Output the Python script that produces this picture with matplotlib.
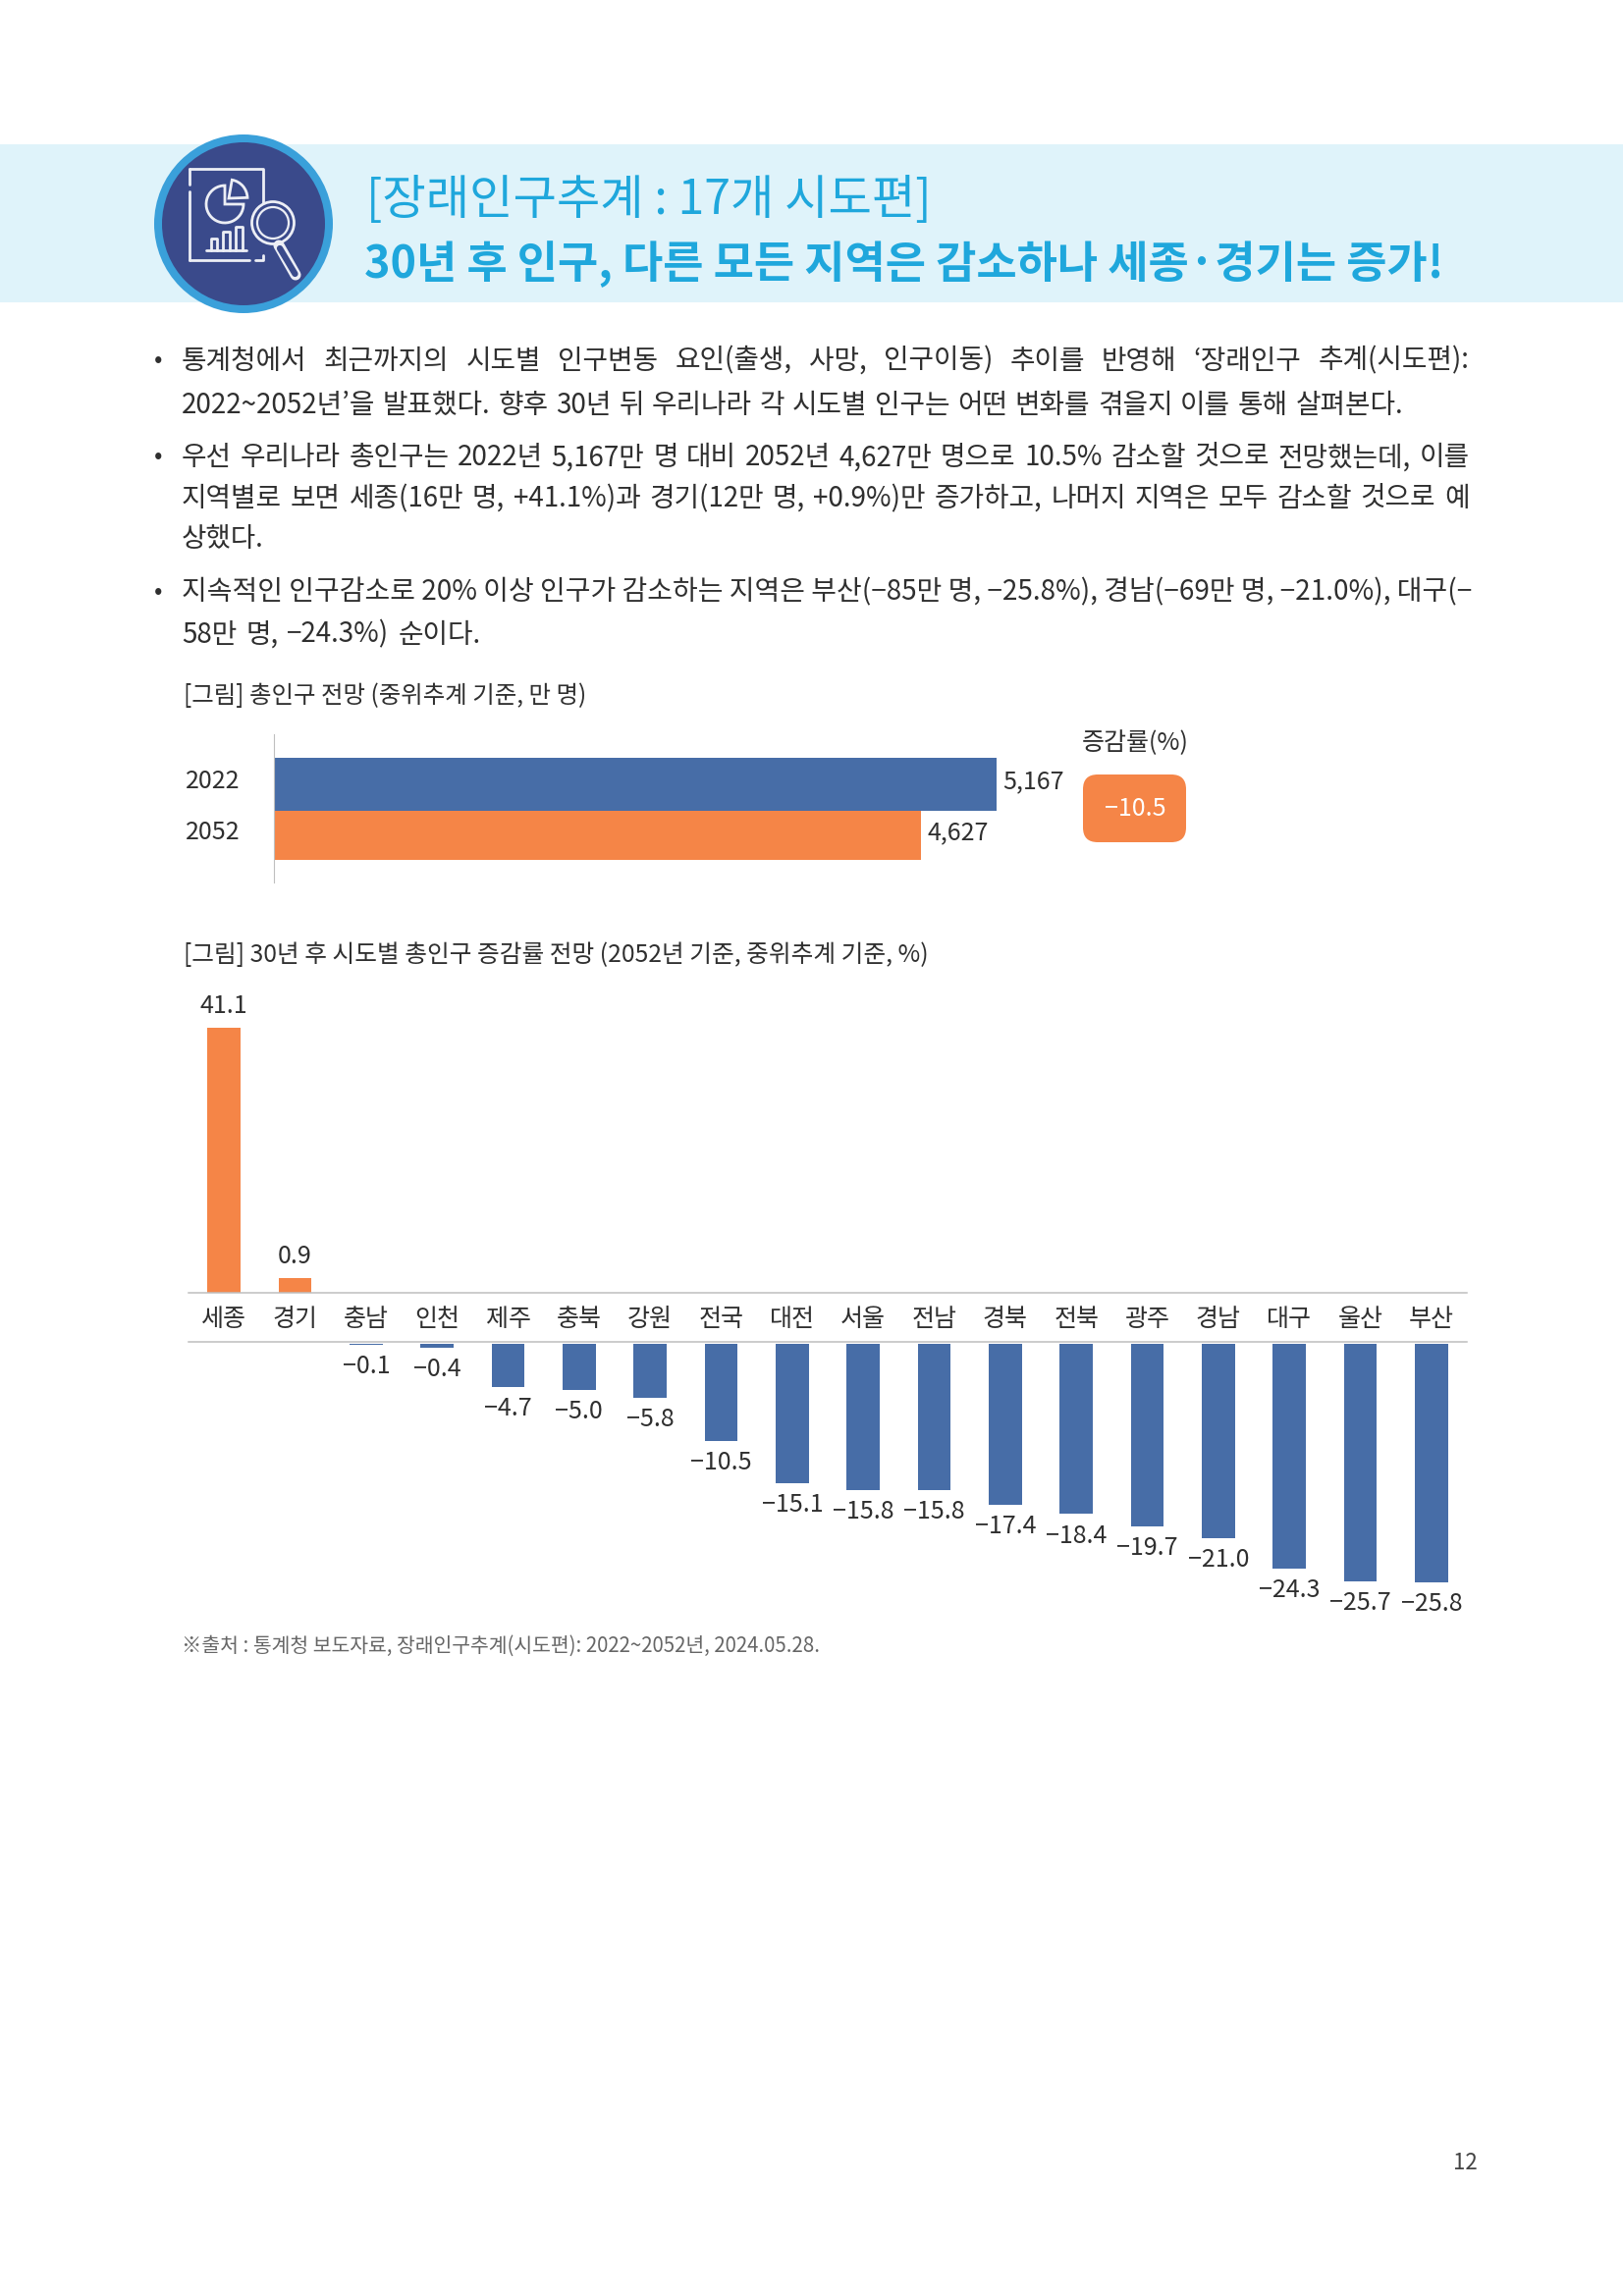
import numpy as np
import matplotlib
matplotlib.use('Agg')
import matplotlib.pyplot as plt
from matplotlib.patches import Circle, FancyBboxPatch, Wedge, Rectangle

plt.rcParams['font.family'] = ['Noto Sans CJK KR', 'DejaVu Sans']

# 데이터
years = ['2022', '2052']
total_pop = [5167, 4627]
total_labels = ['5,167', '4,627']
change_total = '−10.5'

regions = ['세종', '경기', '충남', '인천', '제주', '충북', '강원', '전국', '대전',
           '서울', '전남', '경북', '전북', '광주', '경남', '대구', '울산', '부산']
rates = [41.1, 0.9, -0.1, -0.4, -4.7, -5.0, -5.8, -10.5, -15.1,
         -15.8, -15.8, -17.4, -18.4, -19.7, -21.0, -24.3, -25.7, -25.8]

body_lines = [
    (124, 1003, 246.5, '통계청에서 최근까지의 시도별 인구변동 요인(출생, 사망, 인구이동) 추이를 반영해 ‘장래인구 추계(시도편):'),
    (124, 958, 276.5, '2022~2052년’을 발표했다. 향후 30년 뒤 우리나라 각 시도별 인구는 어떤 변화를 겪을지 이를 통해 살펴본다.'),
    (124, 1003, 312.5, '우선 우리나라 총인구는 2022년 5,167만 명 대비 2052년 4,627만 명으로 10.5% 감소할 것으로 전망했는데, 이를'),
    (124, 1003, 340.5, '지역별로 보면 세종(16만 명, +41.1%)과 경기(12만 명, +0.9%)만 증가하고, 나머지 지역은 모두 감소할 것으로 예'),
    (124, 180, 368.5, '상했다.'),
    (124, 1003, 404.5, '지속적인 인구감소로 20% 이상 인구가 감소하는 지역은 부산(−85만 명, −25.8%), 경남(−69만 명, −21.0%), 대구(−'),
    (124, 328, 433.5, '58만 명, −24.3%) 순이다.'),
]
bullet_rows = [246, 312, 404]

BLUE = '#476DA7'
ORANGE = '#F58547'
TEXT = '#2F2F2F'
GREY = '#BFBFBF'
W, H = 1653, 2339
PREVIEW = W / 1108

fig = plt.figure(figsize=(W / 100, H / 100), dpi=100)
page = fig.add_axes([0, 0, 1, 1])
page.set_xlim(0, W)
page.set_ylim(H, 0)
page.axis('off')
renderer = fig.canvas.get_renderer()


def px_axes(left, top, right, bottom):
    ax = fig.add_axes([left / W, 1 - bottom / H, (right - left) / W, (bottom - top) / H])
    ax.patch.set_alpha(0)
    for s in ax.spines.values():
        s.set_visible(False)
    return ax


def fit_text(x0, x1, y, text, size, **kw):
    # 폭에 맞게 글자 크기 줄임
    t = page.text(x0, y, text, fontsize=size, va='center', ha='left', **kw)
    w = t.get_window_extent(renderer).width
    target = x1 - x0
    if w > target:
        t.set_fontsize(size * target / w)
    return t


def body_line(x0, x1, y, text, size):
    t = page.text(x0, y, text, fontsize=size, va='center', color=TEXT)
    w = t.get_window_extent(renderer).width
    target = x1 - x0
    if w >= target * 0.985:
        t.set_fontsize(size * target / w)
        return
    # 양쪽 정렬: 단어 사이 간격을 넓힘
    t.remove()
    words = text.split(' ')
    pieces = [page.text(0, y, word, fontsize=size, va='center', color=TEXT) for word in words]
    widths = [p.get_window_extent(renderer).width for p in pieces]
    gap = (target - sum(widths)) / (len(words) - 1)
    x = x0
    for p, pw in zip(pieces, widths):
        p.set_x(x)
        x += pw + gap


# 헤더
page.add_patch(Rectangle((0, 147), W, 161, fc='#DFF3FA', ec='none'))
page.add_patch(Circle((248, 228), 91, fc='#3AA0DA', ec='none', zorder=2))
page.add_patch(Circle((248, 228), 83, fc='#3A4A8B', ec='none', zorder=3))

ICON = '#ECEEF5'
line_kw = dict(color=ICON, lw=2, zorder=4, solid_capstyle='round')
page.plot([192.5, 192.5], [195, 265], **line_kw)
page.plot([192.5, 192.5], [172, 188], **line_kw)
page.plot([192.5, 267.5, 267.5], [172, 172, 208], **line_kw)
page.plot([192.5, 254], [265, 265], **line_kw)
page.plot([260, 267.5, 267.5], [265, 265, 260], **line_kw)
page.add_patch(Wedge((229, 208), 19, 0, 270, fc='none', ec=ICON, lw=2, zorder=4))
page.add_patch(Wedge((233, 202), 19, 280, 358, fc='none', ec=ICON, lw=2, zorder=4))
for bx0, bx1, btop in [(215, 221, 243), (227, 234, 236), (240, 247, 231)]:
    page.plot([bx0, bx0, bx1, bx1], [255, btop, btop, 255], **line_kw)
page.plot([210, 251], [255, 255], **line_kw)
page.add_patch(Circle((278, 227), 21.5, fc='#3A4A8B', ec=ICON, lw=2, zorder=5))
page.add_patch(Circle((278, 227), 16, fc='#3A4A8B', ec=ICON, lw=1.6, zorder=5))
page.plot([284, 301], [250, 280], color=ICON, lw=8, zorder=5, solid_capstyle='round')
page.plot([285, 300.5], [253, 279], color='#3A4A8B', lw=4.5, zorder=5, solid_capstyle='round')

fit_text(373, 949, 204, '[장래인구추계 : 17개 시도편]', 38, color='#1FA7DC')
fit_text(371, 1470, 269, '30년 후 인구, 다른 모든 지역은 감소하나 세종·경기는 증가!', 38,
         color='#1FA7DC', fontweight='bold')

# 본문
for x0, x1, y, line in body_lines:
    body_line(x0 * PREVIEW, x1 * PREVIEW, y * PREVIEW, line, 20)
for y in bullet_rows:
    page.text(108 * PREVIEW, y * PREVIEW, '•', fontsize=18, ha='center', va='center', color=TEXT)

# 그림 1: 총인구 전망
fit_text(187, 597, 709, '[그림] 총인구 전망 (중위추계 기준, 만 명)', 18, color=TEXT)

ax1 = px_axes(279.3, 748, 1100, 899)
ax1.barh([0, 1], total_pop, height=[54 / 52, 50 / 52], color=[BLUE, ORANGE])
ax1.set_xlim(0, 5767)
ax1.set_ylim(1.923, -0.98)
ax1.spines['left'].set_visible(True)
ax1.spines['left'].set_color(GREY)
ax1.spines['left'].set_linewidth(0.8)
ax1.set_xticks([])
ax1.set_yticks([])
for i, (year, v, lab) in enumerate(zip(years, total_pop, total_labels)):
    ax1.annotate(year, (0, i), xytext=(-25, 2.5), textcoords='offset points',
                 va='center', ha='right', fontsize=18, color=TEXT)
    ax1.annotate(lab, (v, i), xytext=(5, 2), textcoords='offset points',
                 va='center', ha='left', fontsize=18, color=TEXT)

page.text(1156, 757, '증감률(%)', fontsize=18, ha='center', va='center', color=TEXT)
page.add_patch(FancyBboxPatch((1103, 789), 105, 69, boxstyle='round,pad=0,rounding_size=15',
                              fc=ORANGE, ec='none'))
page.text(1156, 824, change_total, fontsize=18, ha='center', va='center', color='white')

# 그림 2: 시도별 증감률
fit_text(187, 945, 973, '[그림] 30년 후 시도별 총인구 증감률 전망 (2052년 기준, 중위추계 기준, %)', 18, color=TEXT)

x = np.arange(len(regions))
rates = np.array(rates)
pos = rates > 0
neg = ~pos

ax_top = px_axes(192, 1047, 1494, 1317)
ax_top.set_yscale('function', functions=(lambda v: np.power(np.clip(v, 0, None), 0.757),
                                         lambda v: np.power(np.clip(v, 0, None), 1 / 0.757)))
ax_top.bar(x[pos], rates[pos], width=0.47, color=ORANGE)
ax_top.set_xlim(-0.5, len(regions) - 0.5)
ax_top.set_ylim(0, 41.1)
ax_top.set_yticks([])
ax_top.minorticks_off()
ax_top.spines['bottom'].set_visible(True)
ax_top.spines['bottom'].set_color(GREY)
ax_top.spines['bottom'].set_linewidth(1.1)
ax_top.set_xticks(x, regions, fontsize=18, color=TEXT)
ax_top.tick_params(axis='x', length=0, pad=10)
for xi, v in zip(x[pos], rates[pos]):
    ax_top.annotate(f'{v:.1f}', (xi, v), xytext=(-0.5, 16), textcoords='offset points',
                    ha='center', va='center', fontsize=18, color=TEXT, annotation_clip=False)

ax_bot = px_axes(192, 1369, 1494, 1612)
ax_bot.bar(x[neg], rates[neg], width=0.47, color=BLUE)
ax_bot.set_xlim(-0.5, len(regions) - 0.5)
ax_bot.set_ylim(-25.8, 0)
ax_bot.set_xticks([])
ax_bot.set_yticks([])
for xi, v in zip(x[neg], rates[neg]):
    ax_bot.annotate(f'−{abs(v):.1f}', (xi, v), xytext=(0, -16), textcoords='offset points',
                    ha='center', va='center', fontsize=18, color=TEXT, annotation_clip=False)
page.plot([192, 1494], [1367.3, 1367.3], color=GREY, lw=1.1)

# 출처, 쪽번호
fit_text(185, 838, 1677, '※출처 : 통계청 보도자료, 장래인구추계(시도편): 2022~2052년, 2024.05.28.', 16, color='#666666')
page.text(1492, 2204, '12', fontsize=16, ha='center', va='center', color='#444444')

fig.savefig('out.png', dpi=100)
